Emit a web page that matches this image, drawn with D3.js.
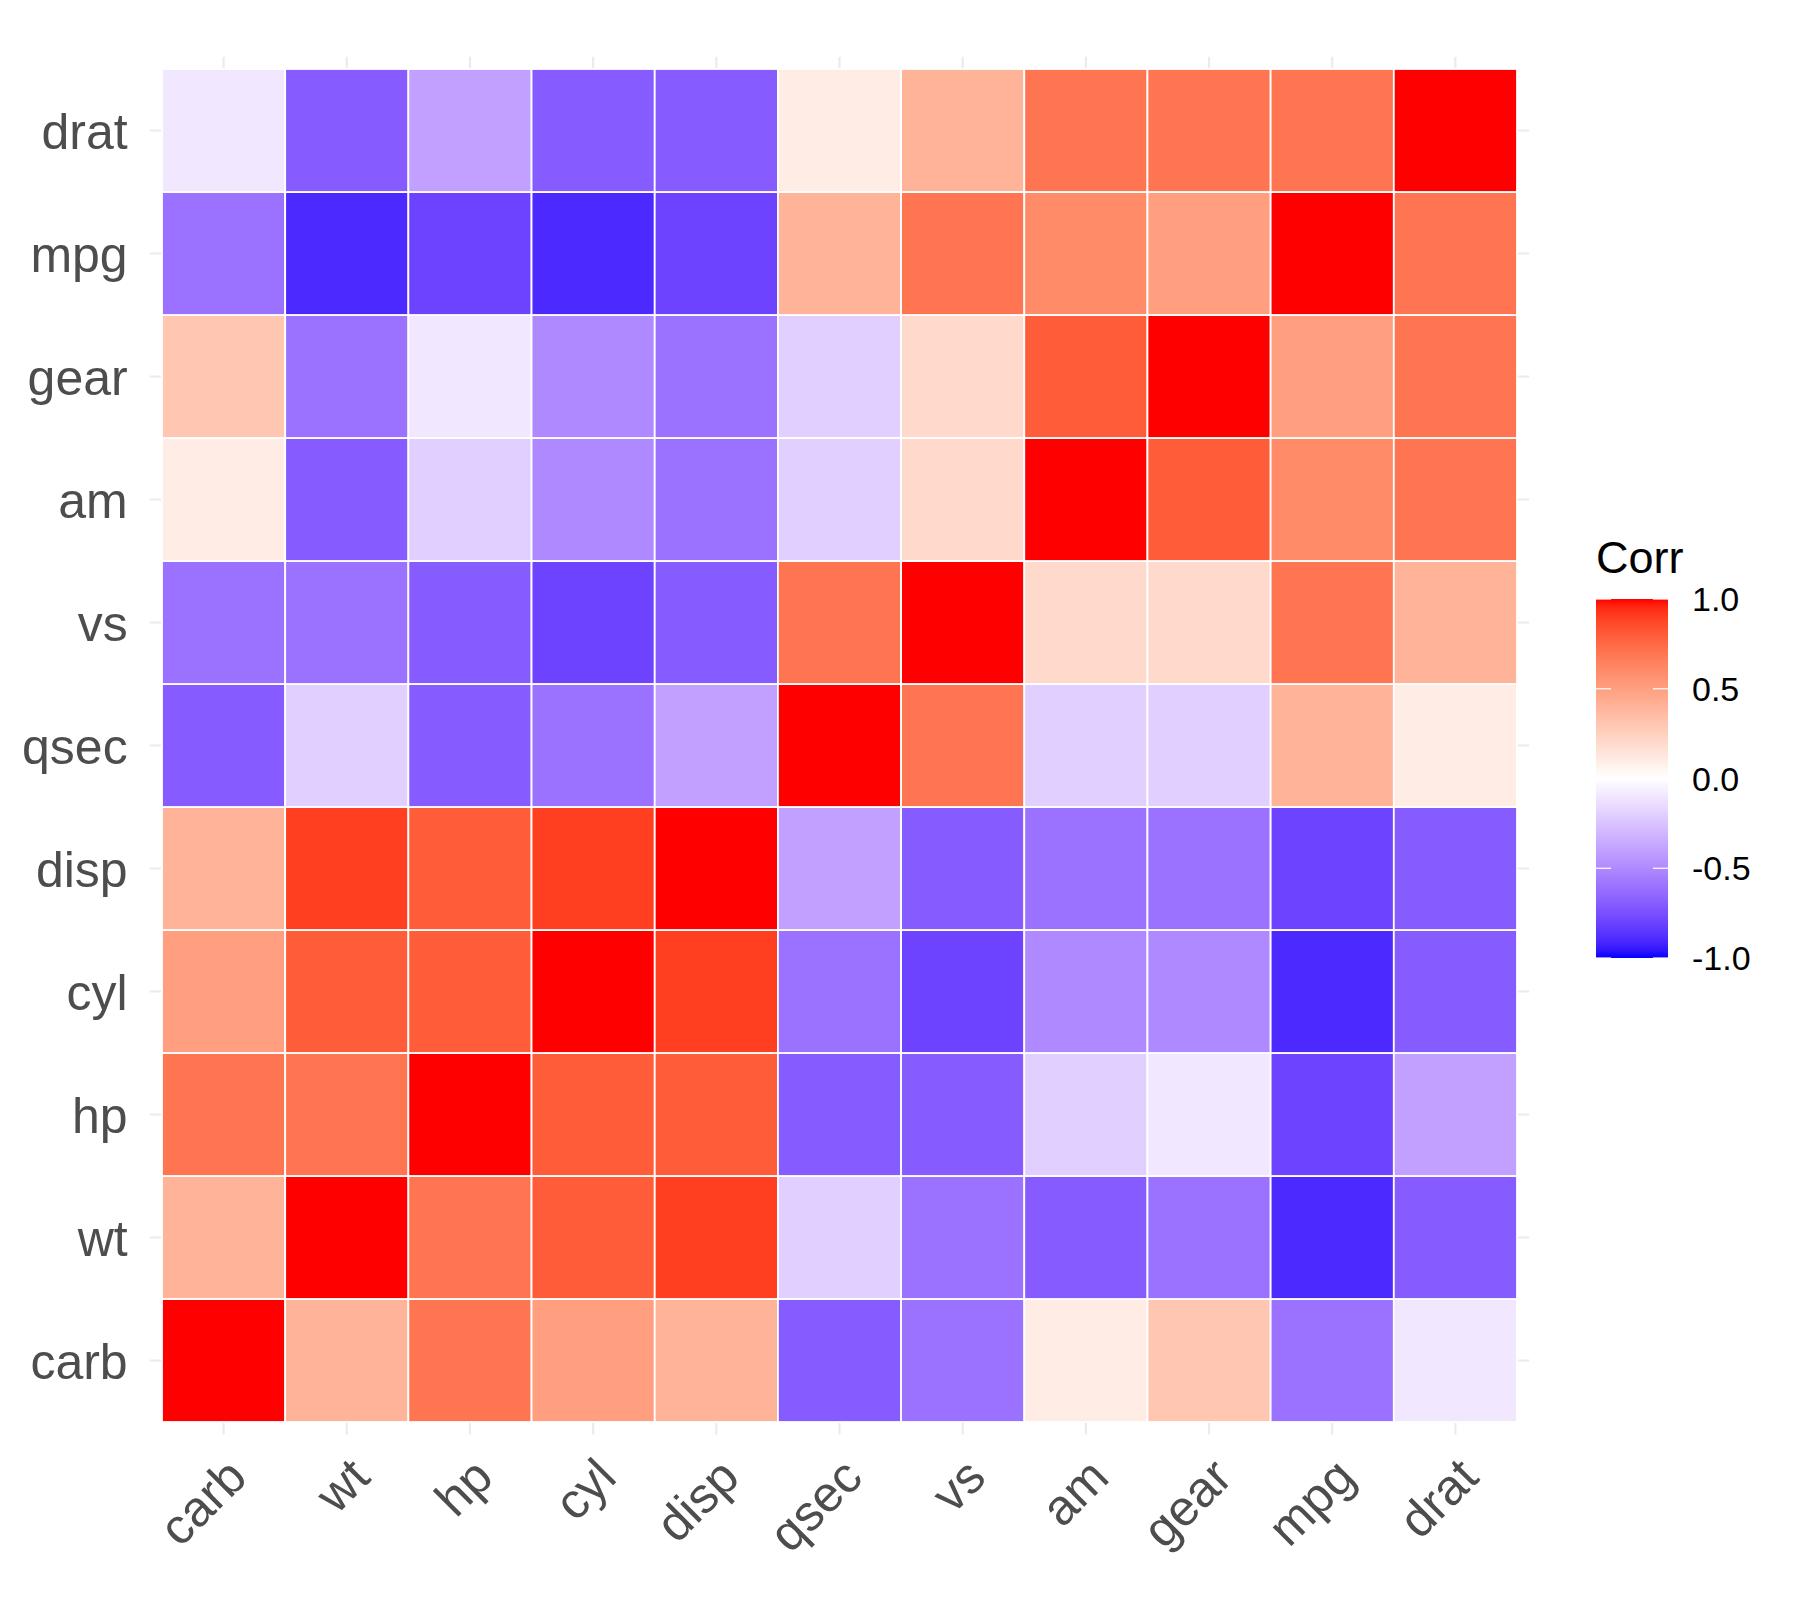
<!DOCTYPE html>
<html>
<head>
<meta charset="utf-8">
<script src="https://cdn.jsdelivr.net/npm/d3@7"></script>
<style>
  html, body { margin: 0; padding: 0; background: #fff; }
  text { font-family: "Liberation Sans", Arial, Helvetica, sans-serif; }
</style>
</head>
<body>
<div id="chart"></div>
<script>
// variables in clustered order (left to right, bottom to top)
const vars = ["carb", "wt", "hp", "cyl", "disp", "qsec", "vs", "am", "gear", "mpg", "drat"];

// correlation rows (one decimal), same order as vars
const corrValues = [
    [ 1.0,  0.4,  0.7,  0.5,  0.4, -0.7, -0.6,  0.1,  0.3, -0.6, -0.1],
    [ 0.4,  1.0,  0.7,  0.8,  0.9, -0.2, -0.6, -0.7, -0.6, -0.9, -0.7],
    [ 0.7,  0.7,  1.0,  0.8,  0.8, -0.7, -0.7, -0.2, -0.1, -0.8, -0.4],
    [ 0.5,  0.8,  0.8,  1.0,  0.9, -0.6, -0.8, -0.5, -0.5, -0.9, -0.7],
    [ 0.4,  0.9,  0.8,  0.9,  1.0, -0.4, -0.7, -0.6, -0.6, -0.8, -0.7],
    [-0.7, -0.2, -0.7, -0.6, -0.4,  1.0,  0.7, -0.2, -0.2,  0.4,  0.1],
    [-0.6, -0.6, -0.7, -0.8, -0.7,  0.7,  1.0,  0.2,  0.2,  0.7,  0.4],
    [ 0.1, -0.7, -0.2, -0.5, -0.6, -0.2,  0.2,  1.0,  0.8,  0.6,  0.7],
    [ 0.3, -0.6, -0.1, -0.5, -0.6, -0.2,  0.2,  0.8,  1.0,  0.5,  0.7],
    [-0.6, -0.9, -0.8, -0.9, -0.8,  0.4,  0.7,  0.6,  0.5,  1.0,  0.7],
    [-0.1, -0.7, -0.4, -0.7, -0.7,  0.1,  0.4,  0.7,  0.7,  0.7,  1.0]
];

const legendTicks = [-1.0, -0.5, 0.0, 0.5, 1.0];
const legendTitle = "Corr";

const W = 1800, H = 1620;
const tiles = { left: 162, right: 1517, top: 69, bottom: 1422 };

const svg = d3.select("#chart").append("svg")
    .attr("width", W)
    .attr("height", H);

const x = d3.scaleBand().domain(vars).range([tiles.left, tiles.right]);
const y = d3.scaleBand().domain(vars.slice().reverse()).range([tiles.top, tiles.bottom]);

// panel expands 0.1 band beyond the tiles (ggplot discrete expansion)
const ex = x.bandwidth() * 0.1;
const panel = {
    left: tiles.left - ex, right: tiles.right + ex,
    top: tiles.top - ex, bottom: tiles.bottom + ex
};

const color = d3.scaleLinear()
    .domain([-1, 0, 1])
    .range(["blue", "white", "red"])
    .interpolate(d3.interpolateLab);

// grid lines (mostly hidden under the tiles)
const grid = svg.append("g").attr("stroke", "#EBEBEB").attr("stroke-width", 2.2);
vars.forEach(v => {
    const cx = x(v) + x.bandwidth() / 2;
    grid.append("line")
        .attr("x1", cx).attr("x2", cx)
        .attr("y1", panel.top).attr("y2", panel.bottom);
    const cy = y(v) + y.bandwidth() / 2;
    grid.append("line")
        .attr("y1", cy).attr("y2", cy)
        .attr("x1", panel.left).attr("x2", panel.right);
});

// tiles
const cells = [];
corrValues.forEach((row, i) => {
    row.forEach((val, j) => {
        cells.push({ rowVar: vars[i], colVar: vars[j], value: val });
    });
});

svg.append("g").selectAll("rect")
    .data(cells)
    .enter()
    .append("rect")
    .attr("x", d => x(d.colVar))
    .attr("y", d => y(d.rowVar))
    .attr("width", x.bandwidth())
    .attr("height", y.bandwidth())
    .attr("fill", d => color(d.value))
    .attr("stroke", "white")
    .attr("stroke-width", 1.8);

// y axis labels
svg.append("g").selectAll("text")
    .data(vars)
    .enter()
    .append("text")
    .attr("x", panel.left - 22)
    .attr("y", d => y(d) + y.bandwidth() / 2)
    .attr("dy", "0.36em")
    .attr("text-anchor", "end")
    .attr("fill", "#4D4D4D")
    .style("font-size", "50px")
    .text(d => d);

// x axis labels, rotated 45 degrees
svg.append("g").selectAll("text")
    .data(vars)
    .enter()
    .append("text")
    .attr("transform", d => `translate(${x(d) + x.bandwidth() / 2},${panel.bottom + 20}) rotate(-45)`)
    .attr("dy", "0.72em")
    .attr("text-anchor", "end")
    .attr("fill", "#4D4D4D")
    .style("font-size", "50px")
    .text(d => d);

// legend
const bar = { left: 1596, width: 72, top: 599, bottom: 958 };
const lScale = d3.scaleLinear().domain([-1, 1]).range([bar.bottom, bar.top]);

const defs = svg.append("defs");
const grad = defs.append("linearGradient")
    .attr("id", "corrGrad")
    .attr("x1", 0).attr("y1", 1).attr("x2", 0).attr("y2", 0);
d3.range(0, 1.0001, 0.02).forEach(t => {
    grad.append("stop")
        .attr("offset", t)
        .attr("stop-color", color(-1 + 2 * t));
});

svg.append("text")
    .attr("x", bar.left)
    .attr("y", 573)
    .attr("fill", "#000")
    .style("font-size", "45px")
    .text(legendTitle);

svg.append("rect")
    .attr("x", bar.left)
    .attr("y", bar.top)
    .attr("width", bar.width)
    .attr("height", bar.bottom - bar.top)
    .attr("fill", "url(#corrGrad)");

const tickLen = 15;
const fmt = v => v.toFixed(1);
const lt = svg.append("g");
legendTicks.forEach(v => {
    const ty = lScale(v);
    lt.append("line")
        .attr("x1", bar.left).attr("x2", bar.left + tickLen)
        .attr("y1", ty).attr("y2", ty)
        .attr("stroke", "white").attr("stroke-width", 1.2);
    lt.append("line")
        .attr("x1", bar.left + bar.width - tickLen).attr("x2", bar.left + bar.width)
        .attr("y1", ty).attr("y2", ty)
        .attr("stroke", "white").attr("stroke-width", 1.2);
    lt.append("text")
        .attr("x", 1692)
        .attr("y", ty)
        .attr("dy", "0.36em")
        .attr("fill", "#000")
        .style("font-size", "34px")
        .text(fmt(v));
});
</script>
</body>
</html>
